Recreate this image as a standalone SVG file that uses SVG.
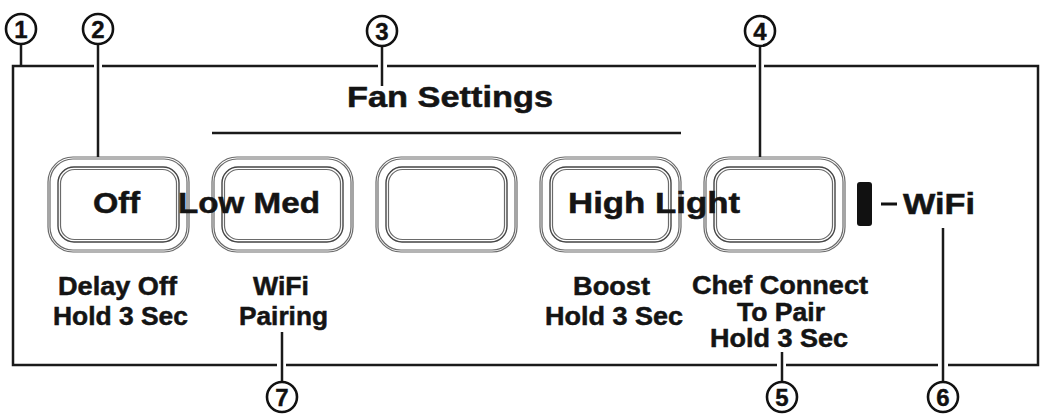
<svg xmlns="http://www.w3.org/2000/svg" width="1042" height="417" viewBox="0 0 1042 417">
<style>
.t{font-family:"Liberation Sans",Arial,sans-serif;font-weight:bold;fill:#141414;stroke:#141414;stroke-width:0.5}
.big{font-size:29px}
.lab{font-size:25px}
.num{font-family:"Liberation Sans",Arial,sans-serif;font-weight:bold;font-size:24px;fill:#111;stroke:#111;stroke-width:0.4;text-anchor:middle}
.circ{fill:#fff;stroke:#111;stroke-width:2.6}
.ln{stroke:#1a1a1a;stroke-width:2.5;fill:none}
.ring{fill:none;stroke:#6a6a6a;stroke-width:1.2}
.ring2{fill:none;stroke:#444;stroke-width:1.4}
</style>
<rect width="1042" height="417" fill="#fff"/>
<g id="frame">
<rect x="13" y="66" width="1025" height="299" class="ln"/>
<rect x="94" y="62" width="8" height="8" fill="#fff"/>
<rect x="378" y="62" width="9" height="8" fill="#fff"/>
<rect x="756" y="62" width="8" height="8" fill="#fff"/>
<rect x="277" y="361" width="9" height="8" fill="#fff"/>
<rect x="777" y="361" width="9" height="8" fill="#fff"/>
<rect x="938" y="361" width="10" height="8" fill="#fff"/>
</g>
<g id="fan-settings">
<text class="t big" x="347" y="107" textLength="206" lengthAdjust="spacingAndGlyphs">Fan Settings</text>
<line x1="212" y1="133" x2="681" y2="133" class="ln" stroke-width="3"/>
</g>
<g id="btn-off">
<rect x="48" y="157" width="141" height="95" rx="25" class="ring"/>
<rect x="50" y="159" width="137" height="91" rx="23" class="ring"/>
<rect x="58" y="167" width="121" height="75" rx="16" class="ring2"/>
<rect x="60.5" y="169.5" width="116" height="70" rx="14" class="ring"/>
<text class="t big" x="93" y="213" textLength="47" lengthAdjust="spacingAndGlyphs">Off</text>
</g>
<g id="btn-lowmed">
<rect x="212" y="157" width="141" height="95" rx="25" class="ring"/>
<rect x="214" y="159" width="137" height="91" rx="23" class="ring"/>
<rect x="222" y="167" width="121" height="75" rx="16" class="ring2"/>
<rect x="224.5" y="169.5" width="116" height="70" rx="14" class="ring"/>
<text class="t big" x="178" y="213" textLength="142" lengthAdjust="spacingAndGlyphs">Low Med</text>
</g>
<g id="btn-blank">
<rect x="376" y="157" width="141" height="95" rx="25" class="ring"/>
<rect x="378" y="159" width="137" height="91" rx="23" class="ring"/>
<rect x="386" y="167" width="121" height="75" rx="16" class="ring2"/>
<rect x="388.5" y="169.5" width="116" height="70" rx="14" class="ring"/>
</g>
<g id="btn-high">
<rect x="540" y="157" width="141" height="95" rx="25" class="ring"/>
<rect x="542" y="159" width="137" height="91" rx="23" class="ring"/>
<rect x="550" y="167" width="121" height="75" rx="16" class="ring2"/>
<rect x="552.5" y="169.5" width="116" height="70" rx="14" class="ring"/>
</g>
<g id="btn-light">
<rect x="704" y="157" width="141" height="95" rx="25" class="ring"/>
<rect x="706" y="159" width="137" height="91" rx="23" class="ring"/>
<rect x="714" y="167" width="121" height="75" rx="16" class="ring2"/>
<rect x="716.5" y="169.5" width="116" height="70" rx="14" class="ring"/>
</g>
<g id="high-light-text">
<text class="t big" x="568" y="213" textLength="172" lengthAdjust="spacingAndGlyphs">High Light</text>
</g>
<g id="wifi-led">
<rect x="857" y="182" width="15" height="44" rx="3" fill="#111"/>
<line x1="881" y1="204" x2="897" y2="204" stroke="#111" stroke-width="3"/>
<text class="t big" x="903" y="214" textLength="72" lengthAdjust="spacingAndGlyphs">WiFi</text>
</g>
<g id="labels">
<text class="t lab" x="58" y="295" textLength="119" lengthAdjust="spacingAndGlyphs">Delay Off</text>
<text class="t lab" x="53" y="325" textLength="135" lengthAdjust="spacingAndGlyphs">Hold 3 Sec</text>
<text class="t lab" x="253" y="295" textLength="56" lengthAdjust="spacingAndGlyphs">WiFi</text>
<text class="t lab" x="239" y="325" textLength="89" lengthAdjust="spacingAndGlyphs">Pairing</text>
<text class="t lab" x="573" y="295" textLength="77" lengthAdjust="spacingAndGlyphs">Boost</text>
<text class="t lab" x="545" y="325" textLength="138" lengthAdjust="spacingAndGlyphs">Hold 3 Sec</text>
<text class="t lab" x="692" y="294" textLength="176" lengthAdjust="spacingAndGlyphs">Chef Connect</text>
<text class="t lab" x="737" y="321" textLength="88" lengthAdjust="spacingAndGlyphs">To Pair</text>
<text class="t lab" x="710" y="347" textLength="138" lengthAdjust="spacingAndGlyphs">Hold 3 Sec</text>
</g>
<g id="connectors">
<line x1="21" y1="44" x2="21" y2="66" class="ln"/>
<line x1="98" y1="44" x2="98" y2="157" class="ln"/>
<line x1="382" y1="46" x2="382" y2="86" class="ln"/>
<line x1="760" y1="46" x2="760" y2="157" class="ln"/>
<line x1="282" y1="332" x2="282" y2="382" class="ln"/>
<line x1="782" y1="352" x2="782" y2="382" class="ln"/>
<line x1="943" y1="228" x2="943" y2="382" class="ln"/>
</g>
<g id="callout-1"><circle cx="21" cy="29" r="15" class="circ"/><text class="num" x="21" y="37.5">1</text></g>
<g id="callout-2"><circle cx="98" cy="29" r="15" class="circ"/><text class="num" x="98" y="37.5">2</text></g>
<g id="callout-3"><circle cx="382" cy="31" r="15" class="circ"/><text class="num" x="382" y="39.5">3</text></g>
<g id="callout-4"><circle cx="760" cy="31" r="15" class="circ"/><text class="num" x="760" y="39.5">4</text></g>
<g id="callout-5"><circle cx="782" cy="397" r="15" class="circ"/><text class="num" x="782" y="405.5">5</text></g>
<g id="callout-6"><circle cx="943" cy="397" r="15" class="circ"/><text class="num" x="943" y="405.5">6</text></g>
<g id="callout-7"><circle cx="282" cy="397" r="15" class="circ"/><text class="num" x="282" y="405.5">7</text></g>
</svg>
